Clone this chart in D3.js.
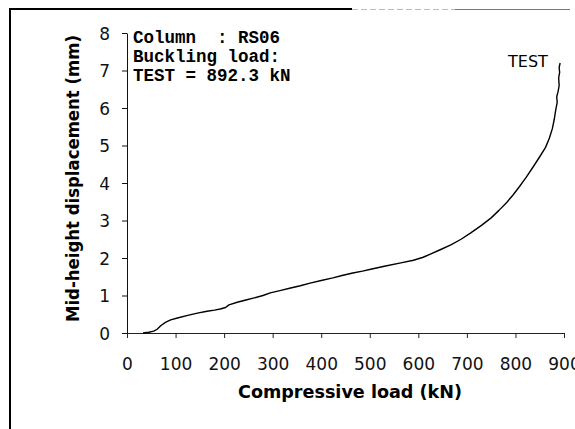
<!DOCTYPE html>
<html>
<head>
<meta charset="utf-8">
<script src="https://cdn.jsdelivr.net/npm/d3@7"></script>
<style>
  html, body { margin: 0; padding: 0; background: #fff; }
  svg { display: block; }
</style>
</head>
<body>
<svg id="chart" width="575" height="429"></svg>
<script>
// Load–deflection record for column RS06
const loadKN = [
  33, 45, 55, 62, 70, 80, 90, 104, 125, 145, 165, 180, 192, 203, 210, 227,
  245, 260, 280, 295, 315, 337, 357, 377, 400, 424, 445, 465, 485, 502, 530,
  564, 590, 610, 626, 645, 667, 688, 708, 730, 750, 766, 782, 795, 808, 822,
  836, 850, 862, 870, 876, 880, 883, 886, 885, 888, 890, 889, 891, 890, 892
];
const dispMM = [
  0.00, 0.02, 0.05, 0.10, 0.20, 0.29, 0.35, 0.40, 0.47, 0.53, 0.58, 0.61,
  0.64, 0.68, 0.75, 0.82, 0.88, 0.93, 1.00, 1.07, 1.13, 1.20, 1.26, 1.33,
  1.40, 1.47, 1.54, 1.60, 1.65, 1.70, 1.78, 1.87, 1.94, 2.02, 2.11, 2.22,
  2.35, 2.50, 2.67, 2.87, 3.07, 3.27, 3.48, 3.68, 3.90, 4.15, 4.42, 4.70,
  4.95, 5.20, 5.45, 5.70, 5.95, 6.15, 6.30, 6.45, 6.60, 6.80, 6.95, 7.08, 7.20
];
const xTicks = [0, 100, 200, 300, 400, 500, 600, 700, 800, 900];
const yTicks = [0, 1, 2, 3, 4, 5, 6, 7, 8];
const infoLines = ["Column  : RS06", "Buckling load:", "TEST = 892.3 kN"];
const seriesLabel = "TEST";
const xTitle = "Compressive load (kN)";
const yTitle = "Mid-height displacement (mm)";

const svg = d3.select("#chart");

// outer frame (left and top edges)
svg.append("line").attr("x1", 10).attr("y1", 9).attr("x2", 10).attr("y2", 429)
  .attr("stroke", "#000").attr("stroke-width", 2);
svg.append("line").attr("x1", 9).attr("y1", 9).attr("x2", 352).attr("y2", 9)
  .attr("stroke", "#000").attr("stroke-width", 2);
svg.append("line").attr("x1", 352).attr("y1", 9.5).attr("x2", 455).attr("y2", 9.5)
  .attr("stroke", "#bbb").attr("stroke-width", 1).attr("stroke-dasharray", "6,3");
svg.append("line").attr("x1", 455).attr("y1", 9.5).attr("x2", 570).attr("y2", 9.5)
  .attr("stroke", "#777").attr("stroke-width", 1);

const x = d3.scaleLinear().domain([0, 900]).range([127, 564]);
const y = d3.scaleLinear().domain([0, 8]).range([333, 33]);

const tickFont = "'DejaVu Sans', sans-serif";

// x axis
const gx = svg.append("g").attr("transform", `translate(0,${y(0)})`)
  .call(d3.axisBottom(x).tickValues(xTicks).tickSize(5).tickSizeOuter(0).tickPadding(7));
gx.select(".domain").attr("stroke", "#222");
gx.selectAll(".tick line").attr("stroke", "#222");
gx.selectAll("text").attr("font-family", tickFont).attr("font-size", 17)
  .attr("fill", "#111").attr("dy", null).attr("y", 37);

// y axis
const gy = svg.append("g").attr("transform", `translate(${x(0)},0)`)
  .call(d3.axisLeft(y).tickValues(yTicks).tickSize(5).tickSizeOuter(0).tickPadding(12));
gy.select(".domain").attr("stroke", "#111");
gy.selectAll(".tick line").attr("stroke", "#111");
gy.selectAll("text").attr("font-family", tickFont).attr("font-size", 17)
  .attr("fill", "#111").attr("x", -17).attr("dy", "0.36em");

// axis titles
svg.append("text").attr("x", 350).attr("y", 398).attr("text-anchor", "middle")
  .attr("font-family", tickFont).attr("font-weight", "bold").attr("font-size", 17)
  .attr("textLength", 224).attr("lengthAdjust", "spacingAndGlyphs")
  .attr("fill", "#000").text(xTitle);
svg.append("text").attr("transform", "translate(79,178.5) rotate(-90)")
  .attr("text-anchor", "middle")
  .attr("font-family", tickFont).attr("font-weight", "bold").attr("font-size", 17)
  .attr("textLength", 287).attr("lengthAdjust", "spacingAndGlyphs")
  .attr("fill", "#000").text(yTitle);

// load–displacement curve
const pts = loadKN.map((v, i) => [v, dispMM[i]]);
const line = d3.line().x(d => x(d[0])).y(d => y(d[1]));
svg.append("path").datum(pts).attr("d", line)
  .attr("fill", "none").attr("stroke", "#000").attr("stroke-width", 1.4)
  .attr("stroke-linejoin", "round");

// series label
svg.append("text").attr("x", 508).attr("y", 67)
  .attr("font-family", tickFont).attr("font-size", 16).attr("fill", "#000")
  .text(seriesLabel);

// info block
svg.append("g").selectAll("text").data(infoLines).join("text")
  .attr("x", 133).attr("y", (d, i) => 43 + i * 19)
  .attr("font-family", "'Liberation Mono', 'Courier New', monospace")
  .attr("font-weight", "bold").attr("font-size", 17.5).attr("fill", "#000")
  .attr("xml:space", "preserve").style("white-space", "pre")
  .text(d => d);
</script>
</body>
</html>
